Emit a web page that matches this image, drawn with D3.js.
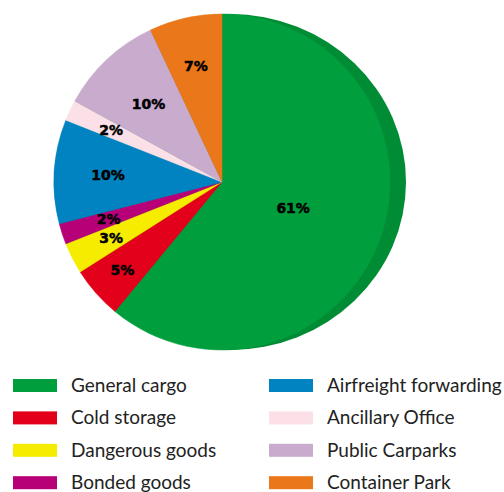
<!DOCTYPE html>
<html>
<head>
<meta charset="utf-8">
<script src="https://cdn.jsdelivr.net/npm/d3@7"></script>
<style>
  body { margin: 0; background: #fff; }
  svg { display: block; }
</style>
</head>
<body>
<svg id="chart" width="504" height="492" viewBox="0 0 504 492"></svg>
<script>
// data, clockwise from 12 o'clock
const categories = ["General cargo", "Cold storage", "Dangerous goods", "Bonded goods",
                    "Airfreight forwarding", "Ancillary Office", "Public Carparks", "Container Park"];
const shares = [61, 5, 3, 2, 10, 2, 10, 7];
const sliceColors = ["#009e3d", "#e2001a", "#f6ec00", "#b70078",
                     "#0083c0", "#fbe1e7", "#c8abcd", "#ea7719"];

// label distance from centre, as a fraction of the radius
const labelRadius = [0.45, 0.79, 0.74, 0.71, 0.68, 0.73, 0.64, 0.71];

const svg = d3.select("#chart");
const cx = 222, cy = 182, r = 168;

const data = categories.map((c, i) => ({ name: c, value: shares[i], color: sliceColors[i], lr: labelRadius[i] }));

// darker green rim on the right hand side (fake 3d)
svg.append("ellipse")
    .attr("cx", cx + 8)
    .attr("cy", cy)
    .attr("rx", r + 8)
    .attr("ry", r)
    .attr("fill", "#008c34");

let pie = d3.pie().sort(null).value(d => d.value);
let arc = d3.arc().innerRadius(0).outerRadius(r);

let g = svg.append("g").attr("transform", `translate(${cx},${cy})`);
let arcs = pie(data);

g.selectAll("path")
    .data(arcs)
    .enter()
    .append("path")
    .attr("d", arc)
    .attr("fill", d => d.data.color)
    .attr("stroke", d => d.data.color)
    .attr("stroke-width", 0.5);

g.selectAll("text")
    .data(arcs)
    .enter()
    .append("text")
    .attr("transform", function(d) {
        let a = (d.startAngle + d.endAngle) / 2;
        let rr = r * d.data.lr;
        return `translate(${Math.sin(a) * rr},${-Math.cos(a) * rr})`;
    })
    .attr("text-anchor", "middle")
    .attr("dy", "0.36em")
    .attr("font-family", "DejaVu Sans, sans-serif")
    .attr("font-weight", "bold")
    .attr("font-size", 14)
    .attr("fill", "#000")
    .attr("stroke", "#000")
    .attr("stroke-width", 0.5)
    .text(d => d.data.value + "%");

// legend, two columns of four
let legend = svg.append("g");
let item = legend.selectAll("g")
    .data(data)
    .enter()
    .append("g")
    .attr("transform", (d, i) => `translate(${i < 4 ? 13 : 269},${379 + (i % 4) * 32.4})`);

item.append("rect")
    .attr("width", 44)
    .attr("height", 13)
    .attr("fill", d => d.color);

item.append("text")
    .attr("x", 58)
    .attr("y", 13)
    .attr("font-family", "Lato, sans-serif")
    .attr("font-size", 19)
    .attr("fill", "#222")
    .text(d => d.name);
</script>
</body>
</html>
